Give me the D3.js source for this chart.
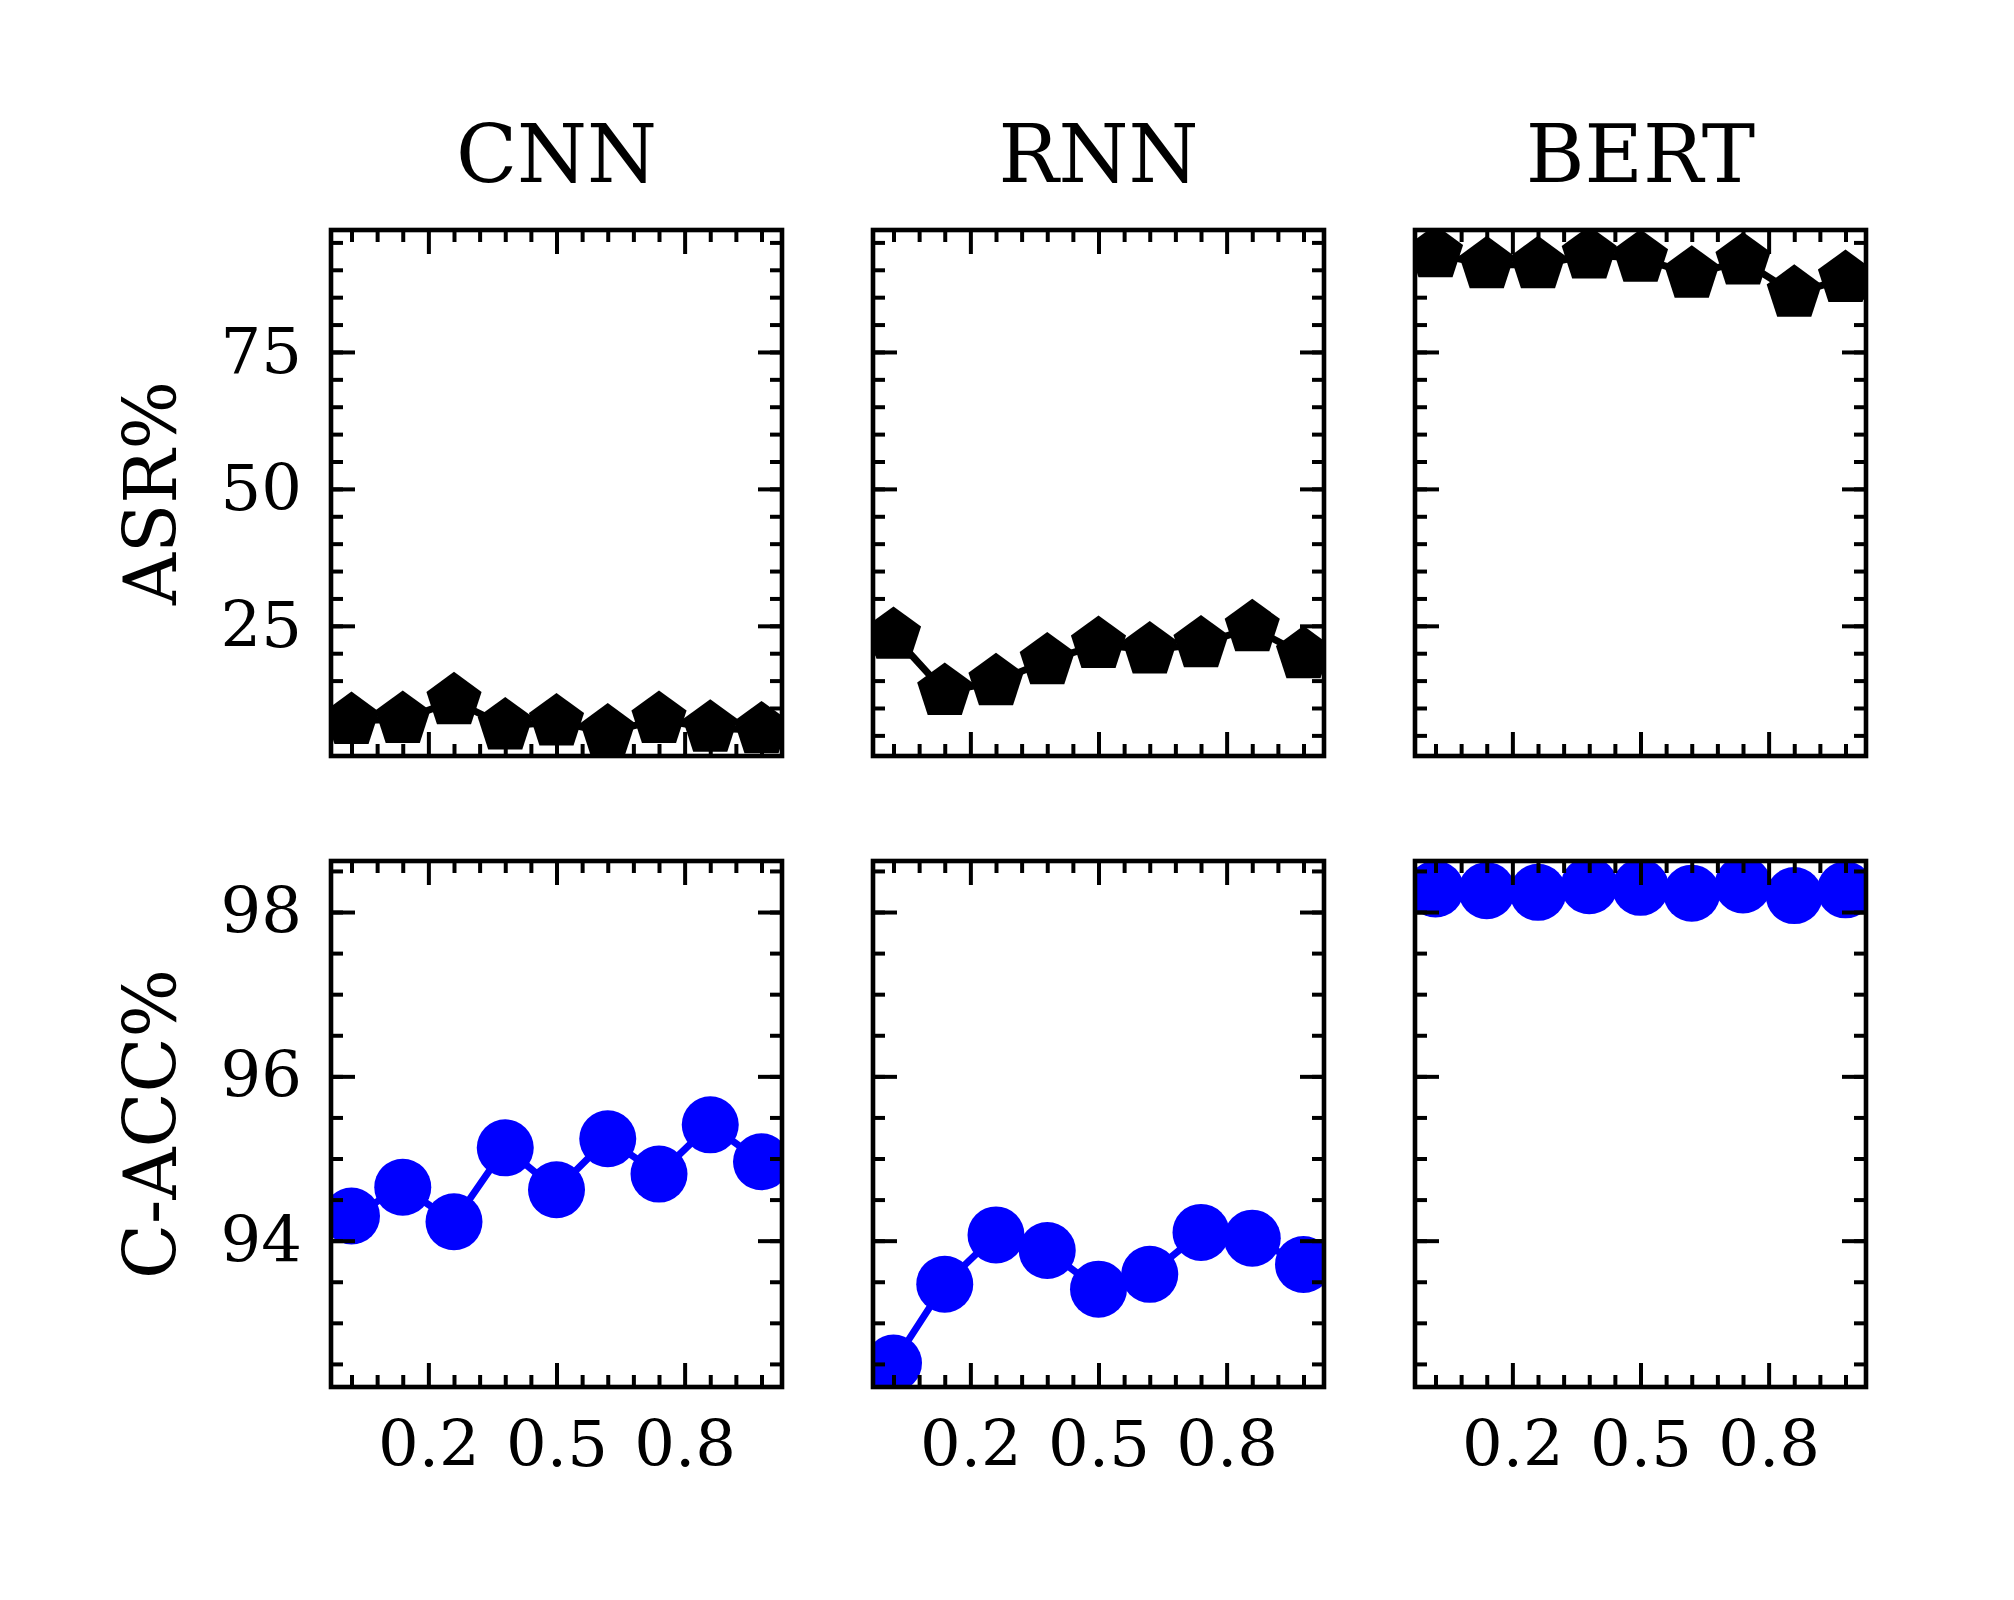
<!DOCTYPE html>
<html>
<head>
<meta charset="utf-8">
<script src="https://cdn.jsdelivr.net/npm/d3@7"></script>
<style>
  body { margin: 0; background: #fff; }
  #vis text { font-family: "DejaVu Serif", serif; fill: #000; }
</style>
</head>
<body>
<div id="vis"></div>
<script>
////////////////////////////////////////
//////////////// Data //////////////////
////////////////////////////////////////

const models = ["CNN", "RNN", "BERT"];
const xValues = [0.02, 0.14, 0.26, 0.38, 0.5, 0.62, 0.74, 0.86, 0.98];

// ASR% (top row)
const asrCNN = [7.7, 7.9, 11.3, 6.7, 7.45, 5.6, 7.9, 6.3, 6.0];
const asrRNN = [23.25, 13.0, 14.8, 18.6, 21.6, 20.6, 21.7, 24.65, 19.7];
const asrBERT = [92.9, 90.9, 90.9, 92.7, 92.1, 89.2, 91.6, 85.7, 88.4];

// C-ACC% (bottom row)
const accCNN = [94.3, 94.65, 94.23, 95.13, 94.62, 95.24, 94.81, 95.41, 94.96];
const accRNN = [92.51, 93.47, 94.07, 93.88, 93.41, 93.59, 94.1, 94.03, 93.71];
const accBERT = [98.28, 98.26, 98.24, 98.32, 98.3, 98.23, 98.33, 98.2, 98.27];

const rowLabels = ["ASR%", "C-ACC%"];
const xTicks = [0.2, 0.5, 0.8];
const asrTicks = [25, 50, 75];
const accTicks = [94, 96, 98];

////////////////////////////////////////
/////////////// Options ////////////////
////////////////////////////////////////

const options = {
  width: 2014,
  height: 1600,
  left: 331,
  top: 230,
  panelW: 451,
  panelH: 526,
  colStep: 542,
  rowStep: 631,
  majorLen: 24,
  minorLen: 12,
  tickWidth: 4,
  spineWidth: 4.6,
  lineWidth: 7,
  pentR: 29,
  circleR: 28.5,
  tickFont: 64,
  labelFont: 72,
  titleFont: 80,
};

const rows = [
  { label: rowLabels[0], series: [asrCNN, asrRNN, asrBERT], major: asrTicks,
    minor: d3.range(5, 96, 5), color: "#000000", marker: "pentagon" },
  { label: rowLabels[1], series: [accCNN, accRNN, accBERT], major: accTicks,
    minor: d3.range(92.5, 98.6, 0.5), color: "#0000ff", marker: "circle" },
];

////////////////////////////////////////
////////////// SVG Setup ///////////////
////////////////////////////////////////

const svg = d3
  .select("#vis")
  .append("svg")
  .attr("width", options.width)
  .attr("height", options.height)
  .attr("viewBox", `0 0 ${options.width} ${options.height}`);

svg.append("rect").attr("width", options.width).attr("height", options.height).attr("fill", "#fff");

// regular pentagon, point up, size = circumradius
const pentagon = {
  draw(context, r) {
    for (let i = 0; i < 5; i++) {
      const a = -Math.PI / 2 + (i * 2 * Math.PI) / 5;
      if (i === 0) context.moveTo(r * Math.cos(a), r * Math.sin(a));
      else context.lineTo(r * Math.cos(a), r * Math.sin(a));
    }
    context.closePath();
  },
};

// matplotlib style 5% margins
function padded(values) {
  const [lo, hi] = d3.extent(values);
  const m = (hi - lo) * 0.05;
  return [lo - m, hi + m];
}

const xScale = d3
  .scaleLinear()
  .domain(padded(xValues))
  .range([0, options.panelW]);

// minor x ticks every 0.06, skipping the majors
const xMinor = d3
  .range(0.02, 0.99, 0.06)
  .filter((v) => !xTicks.some((t) => Math.abs(t - v) < 1e-6));

function styleAxis(g, keepText) {
  g.select(".domain").remove();
  g.selectAll(".tick line").attr("stroke", "#000").attr("stroke-width", options.tickWidth);
  if (!keepText) g.selectAll(".tick text").remove();
  g.attr("font-family", null).attr("font-size", options.tickFont);
}

////////////////////////////////////////
////////////// Panels //////////////////
////////////////////////////////////////

rows.forEach((row, ri) => {
  const yScale = d3
    .scaleLinear()
    .domain(padded(row.series.flat()))
    .range([options.panelH, 0]);

  row.series.forEach((values, ci) => {
    const g = svg
      .append("g")
      .attr(
        "transform",
        `translate(${options.left + ci * options.colStep},${options.top + ri * options.rowStep})`
      );

    const clipId = `clip-${ri}-${ci}`;
    g.append("clipPath")
      .attr("id", clipId)
      .append("rect")
      .attr("width", options.panelW)
      .attr("height", options.panelH);

    const pts = xValues.map((x, i) => ({ x: x, y: values[i] }));

    const plot = g.append("g").attr("clip-path", `url(#${clipId})`);

    plot
      .append("path")
      .datum(pts)
      .attr("fill", "none")
      .attr("stroke", row.color)
      .attr("stroke-width", options.lineWidth)
      .attr("stroke-linejoin", "round")
      .attr("d", d3.line().x((d) => xScale(d.x)).y((d) => yScale(d.y)));

    if (row.marker === "pentagon") {
      plot
        .selectAll(".mk")
        .data(pts)
        .join("path")
        .attr("class", "mk")
        .attr("transform", (d) => `translate(${xScale(d.x)},${yScale(d.y)})`)
        .attr("d", d3.symbol().type(pentagon).size(options.pentR))
        .attr("fill", row.color);
    } else {
      plot
        .selectAll(".mk")
        .data(pts)
        .join("circle")
        .attr("class", "mk")
        .attr("cx", (d) => xScale(d.x))
        .attr("cy", (d) => yScale(d.y))
        .attr("r", options.circleR)
        .attr("fill", row.color);
    }

    // y ticks, left and right, pointing in
    g.append("g")
      .call(
        d3.axisLeft(yScale).tickValues(row.major).tickSize(-options.majorLen)
          .tickPadding(29).tickFormat(d3.format("d"))
      )
      .call((a) => styleAxis(a, ci === 0));
    g.append("g")
      .call(d3.axisLeft(yScale).tickValues(row.minor).tickSize(-options.minorLen))
      .call((a) => styleAxis(a, false));
    g.append("g")
      .attr("transform", `translate(${options.panelW},0)`)
      .call(d3.axisRight(yScale).tickValues(row.major).tickSize(-options.majorLen))
      .call((a) => styleAxis(a, false));
    g.append("g")
      .attr("transform", `translate(${options.panelW},0)`)
      .call(d3.axisRight(yScale).tickValues(row.minor).tickSize(-options.minorLen))
      .call((a) => styleAxis(a, false));

    // x ticks, top and bottom
    g.append("g")
      .call(d3.axisTop(xScale).tickValues(xTicks).tickSize(-options.majorLen))
      .call((a) => styleAxis(a, false));
    g.append("g")
      .call(d3.axisTop(xScale).tickValues(xMinor).tickSize(-options.minorLen))
      .call((a) => styleAxis(a, false));
    g.append("g")
      .attr("transform", `translate(0,${options.panelH})`)
      .call(
        d3.axisBottom(xScale).tickValues(xTicks).tickSize(-options.majorLen)
          .tickPadding(34).tickFormat(d3.format(".1f"))
      )
      .call((a) => styleAxis(a, ri === rows.length - 1));
    g.append("g")
      .attr("transform", `translate(0,${options.panelH})`)
      .call(d3.axisBottom(xScale).tickValues(xMinor).tickSize(-options.minorLen))
      .call((a) => styleAxis(a, false));

    // spines
    g.append("rect")
      .attr("width", options.panelW)
      .attr("height", options.panelH)
      .attr("fill", "none")
      .attr("stroke", "#000")
      .attr("stroke-width", options.spineWidth);

    // column titles
    if (ri === 0) {
      g.append("text")
        .attr("x", options.panelW / 2)
        .attr("y", -48)
        .attr("text-anchor", "middle")
        .attr("font-size", options.titleFont)
        .text(models[ci]);
    }

    // row labels
    if (ci === 0) {
      g.append("text")
        .attr("transform", `translate(${176 - options.left},${options.panelH / 2}) rotate(-90)`)
        .attr("text-anchor", "middle")
        .attr("font-size", options.labelFont)
        .text(row.label);
    }
  });
});
</script>
</body>
</html>
